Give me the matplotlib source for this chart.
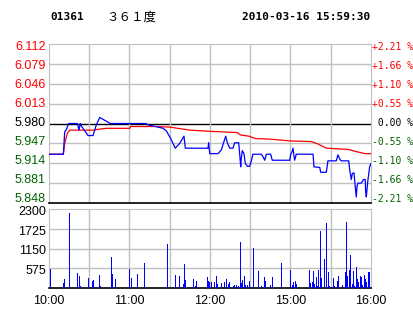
import matplotlib
matplotlib.use("Agg")
import matplotlib.pyplot as plt

# minutes since 10:00 (trading minutes, lunch break removed)
price_t = [0, 10.7, 11.7, 12.7, 14.7, 21.1, 22.4, 23.3, 24.1, 26.6, 29.1, 32.8, 35.3,
           37.8, 40.2, 45.7, 72.5, 73.3, 77.5, 81.2, 85.0, 87.4, 90.7, 94.1, 97.4,
           100.6, 101.6, 118.5, 119.0, 119.8, 126.0, 128.4, 130.4, 131.7, 132.9,
           134.7, 137.1, 138.4, 141.4, 142.1, 142.9, 143.3, 144.1, 145.3, 146.3,
           147.8, 149.6, 150.8, 152.0, 158.2, 159.5, 160.8, 162.0, 165.2, 166.4,
           179.4, 180.1, 181.1, 181.9, 182.6, 183.1, 184.3, 196.8, 197.5, 201.8,
           202.5, 206.7, 207.9, 214.1, 215.4, 216.7, 217.8, 223.4, 224.1, 225.3,
           226.1, 227.3, 229.0, 229.6, 230.3, 232.8, 234.4, 235.7, 236.0, 236.5,
           237.2, 237.7, 239.0, 239.8]
price = [5.929, 5.929, 5.966, 5.969, 5.980, 5.980, 5.969, 5.980, 5.976, 5.968, 5.960,
         5.960, 5.978, 5.990, 5.987, 5.980, 5.980, 5.978, 5.976, 5.974, 5.972, 5.968,
         5.955, 5.939, 5.947, 5.959, 5.939, 5.939, 5.948, 5.930, 5.930, 5.936, 5.950,
         5.959, 5.948, 5.939, 5.939, 5.948, 5.948, 5.930, 5.908, 5.922, 5.935, 5.930,
         5.914, 5.909, 5.909, 5.918, 5.929, 5.929, 5.925, 5.919, 5.929, 5.929, 5.919,
         5.919, 5.928, 5.933, 5.939, 5.926, 5.919, 5.929, 5.929, 5.908, 5.907, 5.899,
         5.899, 5.918, 5.918, 5.928, 5.921, 5.918, 5.918, 5.904, 5.887, 5.897, 5.898,
         5.858, 5.876, 5.881, 5.881, 5.887, 5.887, 5.867, 5.858, 5.875, 5.886, 5.908,
         5.913]

avg_t = [0, 10.7, 11.7, 13.7, 15.5, 34.2, 35.3, 42.7, 60.2, 60.9, 80, 90, 105, 120,
         130, 140.2, 142.7, 148.9, 153.9, 165.2, 170.1, 180, 195.5, 200.5, 206.7,
         222.9, 227.9, 235.4, 240]
avg = [5.929, 5.929, 5.947, 5.964, 5.969, 5.969, 5.970, 5.972, 5.972, 5.975, 5.975,
       5.974, 5.969, 5.967, 5.966, 5.965, 5.961, 5.959, 5.955, 5.954, 5.953, 5.951,
       5.950, 5.946, 5.939, 5.937, 5.934, 5.930, 5.930]

vol_t = [1.0, 10.7, 11.4, 15.1, 21.1, 22.6, 23.3, 29.3, 32.3, 33.0, 37.5, 38.2, 46.4,
         47.2, 49.4, 59.8, 61.3, 65.8, 71.0, 88.2, 94.1, 97.1, 100.1, 100.8, 101.6,
         107.5, 109.0, 109.8, 118.0, 118.7, 119.5, 121.0, 123.2, 124.7, 125.4, 128.4,
         130.7, 132.1, 133.6, 134.4, 137.4, 138.1, 139.6, 141.1, 142.6, 143.3, 144.1,
         145.6, 146.3, 147.8, 149.3, 152.3, 156.0, 158.2, 160.5, 161.2, 164.9, 166.4,
         173.1, 179.8, 181.3, 182.1, 183.6, 184.3, 194.0, 194.7, 196.2, 197.0, 197.7,
         199.2, 200.0, 200.7, 202.2, 203.0, 205.2, 206.7, 208.2, 208.9, 211.9, 212.6,
         214.9, 215.6, 218.6, 220.8, 221.6, 222.3, 223.8, 224.6, 226.1, 226.8, 227.5,
         229.0, 229.8, 230.5, 232.0, 232.8, 233.5, 235.0, 235.7, 236.5, 238.0, 238.7]
vol = [553, 136, 262, 2173, 427, 349, 58, 291, 204, 233, 378, 58, 902, 407, 262, 553,
       300, 407, 727, 1280, 378, 349, 116, 698, 233, 262, 58, 204, 320, 204, 184, 184,
       184, 349, 116, 146, 175, 262, 116, 175, 58, 87, 87, 58, 1339, 155, 233, 349, 87,
       87, 204, 1164, 495, 58, 320, 204, 87, 320, 727, 524, 87, 175, 204, 116, 524, 146,
       175, 495, 116, 320, 58, 524, 1659, 291, 844, 1892, 466, 58, 291, 58, 204, 349, 87,
       466, 1921, 349, 524, 960, 116, 495, 58, 611, 262, 175, 349, 320, 87, 378, 262,
       175, 466, 466]

prev_close = 5.980
price_ticks = [6.112, 6.079, 6.046, 6.013, 5.980, 5.947, 5.914, 5.881, 5.848]
pct_labels = ["+2.21 %", "+1.66 %", "+1.10 %", "+0.55 %", " 0.00 %",
              "-0.55 %", "-1.10 %", "-1.66 %", "-2.21 %"]
vol_ticks = [575, 1150, 1725, 2300]
time_ticks = [0, 60, 120, 180, 240]
time_labels = ["10:00", "11:00", "12:00", "15:00", "16:00"]

RED = "#ff0000"
GREEN = "#006400"
GRID = "#c0c0c0"
W, H = 414, 314

def tick_color(v):
    if v > prev_close + 1e-9:
        return RED
    if v < prev_close - 1e-9:
        return GREEN
    return "black"

fig = plt.figure(figsize=(W / 100, H / 100), dpi=100)
fig.patch.set_facecolor("white")

ax = fig.add_axes([49/W, 1 - 203/H, 322/W, 159/H])
ax.set_xlim(0, 240)
ax.set_ylim(5.848, 6.112)
for v in price_ticks[1:-1]:
    ax.axhline(v, color="black" if v == prev_close else GRID, lw=1.0, zorder=1)
for t in range(30, 240, 30):
    ax.axvline(t, color=GRID, lw=1.0, zorder=1)
ax.plot(avg_t, avg, color=RED, lw=0.9, zorder=3)
ax.plot(price_t, price, color="#0000ff", lw=0.9, zorder=4)
ax.set_xticks([])
ax.set_yticks([])
for s in ["top", "left", "right"]:
    ax.spines[s].set_color(GRID)
ax.spines["bottom"].set_color("black")
ax.spines["bottom"].set_linewidth(1.2)

# labels sit a little inside the top and bottom gridlines, like the original
for i, (v, pct) in enumerate(zip(price_ticks, pct_labels)):
    ypix = 47.3 + 19.0 * i
    fig.text(46/W, 1 - ypix/H, "%.3f" % v, color=tick_color(v), ha="right",
             va="center", fontfamily="Liberation Sans", fontsize=9)
    fig.text(372/W, 1 - ypix/H, pct, color=tick_color(v), ha="left",
             va="center", fontfamily="DejaVu Sans Mono", fontsize=7)

axv = fig.add_axes([49/W, 1 - 288/H, 322/W, 79/H])
axv.set_xlim(0, 240)
axv.set_ylim(0, 2300)
for v in vol_ticks[:-1]:
    axv.axhline(v, color=GRID, lw=1.0, zorder=1)
for t in range(30, 240, 30):
    axv.axvline(t, color=GRID, lw=1.0, zorder=1)
axv.bar(vol_t, vol, width=1.0, color="#0000ff", linewidth=0, antialiased=False,
        zorder=3)
axv.set_yticks([])
for v in vol_ticks:
    ypix = 288 - v / 2300 * 79 + 3
    fig.text(46/W, 1 - ypix/H, str(v), ha="right", va="center",
             fontfamily="Liberation Sans", fontsize=9)
axv.set_xticks(time_ticks)
axv.set_xticklabels(time_labels, fontfamily="Liberation Sans", fontsize=9)
axv.tick_params(axis="x", length=0, pad=5)
for s in ["top", "left", "right"]:
    axv.spines[s].set_color(GRID)
axv.spines["bottom"].set_color("black")
axv.spines["bottom"].set_linewidth(1.2)

fig.text(50/W, 1 - 17/H, "01361", fontfamily="DejaVu Sans Mono",
         fontweight="bold", fontsize=8, va="center")
fig.text(106/W, 1 - 17/H, "３６１度", fontfamily=["Noto Sans CJK SC", "DejaVu Sans"],
         fontsize=9, va="center")
fig.text(370/W, 1 - 17/H, "2010-03-16 15:59:30", fontfamily="DejaVu Sans Mono",
         fontweight="bold", fontsize=8, va="center", ha="right")

fig.savefig("out.png", dpi=100, facecolor="white")
